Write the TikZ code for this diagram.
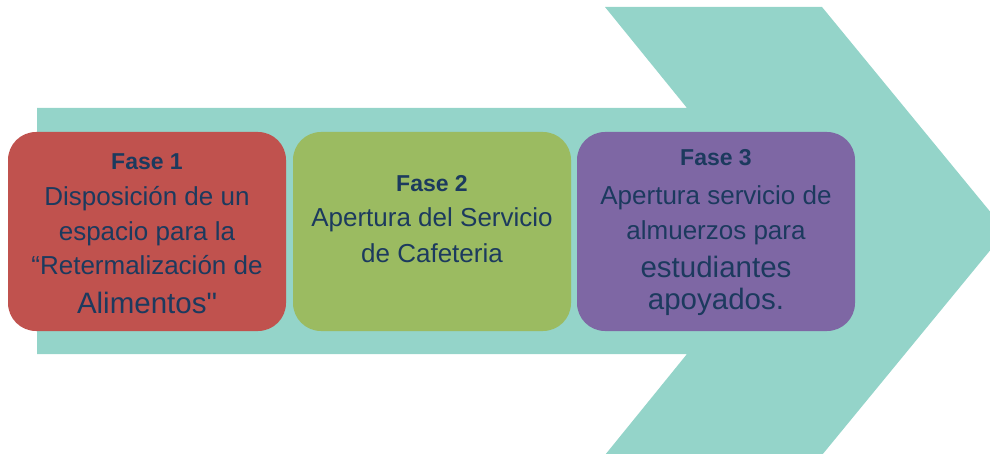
\documentclass[tikz,border=0pt]{standalone}
\usepackage{fontspec}
\setmainfont{Liberation Sans}[Ligatures=TeXOff]
\definecolor{teal1}{HTML}{94D4C9}
\definecolor{red1}{HTML}{C0524E}
\definecolor{green1}{HTML}{9BBB61}
\definecolor{purple1}{HTML}{7E67A4}
\definecolor{navy1}{HTML}{1C3A5E}
\begin{document}
\begin{tikzpicture}[x=1pt,y=-1pt,
  phase/.style={rounded corners=28pt, minimum width=278pt, minimum height=199pt, inner sep=0pt, draw=none},
  ttl/.style={anchor=base, inner sep=0pt, text=navy1, font=\bfseries\fontsize{23}{26}\selectfont},
  ln/.style={anchor=base, inner sep=0pt, text=navy1, font=\fontsize{26}{30}\selectfont},
  lnbig/.style={anchor=base, inner sep=0pt, text=navy1, font=\fontsize{29.5}{34}\selectfont}]
\useasboundingbox (0,0) rectangle (990,454);
\begin{scope}
\clip (0,0) rectangle (990,454);
\fill[teal1] (37,108) -- (687,108) -- (605,7) -- (822,7) -- (1006,231) -- (822,455) -- (605,455) -- (687,354) -- (37,354) -- cycle;
\end{scope}
\node[phase, fill=red1] (b1) at (147,231.5) {};
\node[phase, fill=green1] (b2) at (432,231.5) {};
\node[phase, fill=purple1] (b3) at (716,231.5) {};
% box 1
\node[ttl] (b1t) at (147,170) {Fase 1};
\node[ln] (b1a) at (147,206) {Disposición de un};
\node[ln] (b1b) at (147,241) {espacio para la};
\node[ln] (b1c) at (147,275) {“Retermalización de};
\node[lnbig] (b1d) at (147,313) {Alimentos"};
% box 2
\node[ttl] (b2t) at (432,192) {Fase 2};
\node[ln] (b2a) at (432,227) {Apertura del Servicio};
\node[ln] (b2b) at (432,262) {de Cafeteria};
% box 3
\node[ttl] (b3t) at (716,166) {Fase 3};
\node[ln] (b3a) at (716,205) {Apertura servicio de};
\node[ln] (b3b) at (716,240) {almuerzos para};
\node[lnbig] (b3c) at (716,277) {estudiantes};
\node[lnbig] (b3d) at (716,309) {apoyados.};
\end{tikzpicture}
\end{document}
